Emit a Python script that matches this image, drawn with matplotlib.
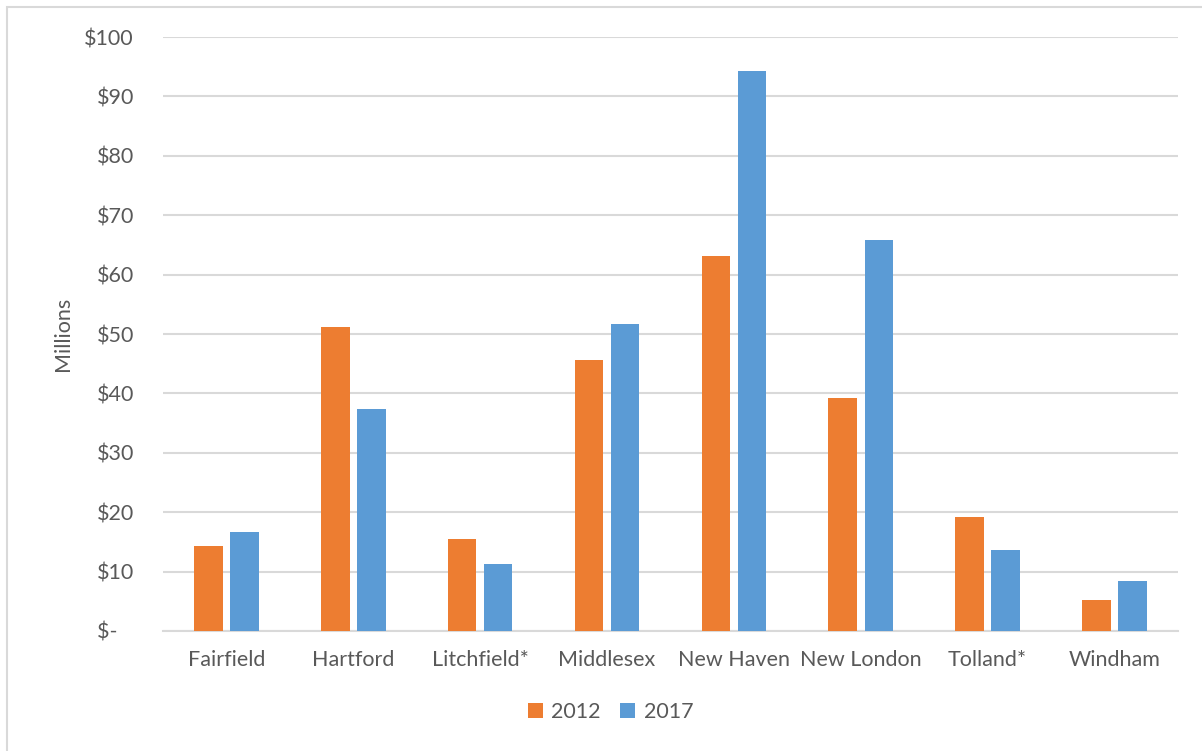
import matplotlib
matplotlib.use("Agg")
import matplotlib.pyplot as plt
import numpy as np
from matplotlib.patches import Rectangle

counties = ["Fairfield", "Hartford", "Litchfield*", "Middlesex", "New Haven",
            "New London", "Tolland*", "Windham"]
vals_2012 = [14.3, 51.2, 15.5, 45.6, 63.1, 39.3, 19.2, 5.2]
vals_2017 = [16.7, 37.3, 11.2, 51.7, 94.3, 65.8, 13.7, 8.4]
y_ticks = [0, 10, 20, 30, 40, 50, 60, 70, 80, 90, 100]
y_labels = ["$-   ", "$10", "$20", "$30", "$40", "$50", "$60", "$70", "$80", "$90", "$100"]

plt.rcParams['font.family'] = ['Lato', 'DejaVu Sans']
text_col = '#595959'
grid_col = '#D9D9D9'
fs = 15.5

fig = plt.figure(figsize=(12.02, 7.51), dpi=100)
ax = fig.add_axes([0.1356, 0.1598, 0.8444, 0.7909])

# outer chart border (only left/top visible in the crop)
fig.patches.append(Rectangle((7 / 1202, -0.05), 1.1, (751 - 7) / 751 + 0.05,
                             transform=fig.transFigure, fill=False,
                             edgecolor=grid_col, linewidth=1.5))

x = np.arange(len(counties))
w = 0.225
off = 0.142
ax.bar(x - off, vals_2012, w, color='#ED7D31', label='2012', zorder=3)
ax.bar(x + off, vals_2017, w, color='#5B9BD5', label='2017', zorder=3)

ax.set_xlim(-0.5, len(counties) - 0.5)
ax.set_ylim(0, 100)
ax.set_yticks(y_ticks)
ax.set_yticklabels(y_labels)
ax.set_xticks(x)
ax.set_xticklabels(counties)
ax.tick_params(axis='y', length=0, pad=21, labelsize=fs, labelcolor=text_col)
ax.tick_params(axis='x', length=0, pad=14, labelsize=fs, labelcolor=text_col)
ax.grid(axis='y', color=grid_col, linewidth=1.5, zorder=0)
for s in ['left', 'right', 'top']:
    ax.spines[s].set_visible(False)
ax.spines['bottom'].set_color(grid_col)
ax.spines['bottom'].set_linewidth(1.5)

ax.set_ylabel("Millions", fontsize=fs, color=text_col)
ax.yaxis.set_label_coords(-0.0885, 0.5)

ax.legend(loc='center', bbox_to_anchor=(0.441, -0.136), ncol=2, frameon=False,
          fontsize=fs, labelcolor=text_col, handlelength=0.7, handleheight=0.7,
          handletextpad=0.4, columnspacing=0.9)

fig.savefig("out.png", dpi=100)
